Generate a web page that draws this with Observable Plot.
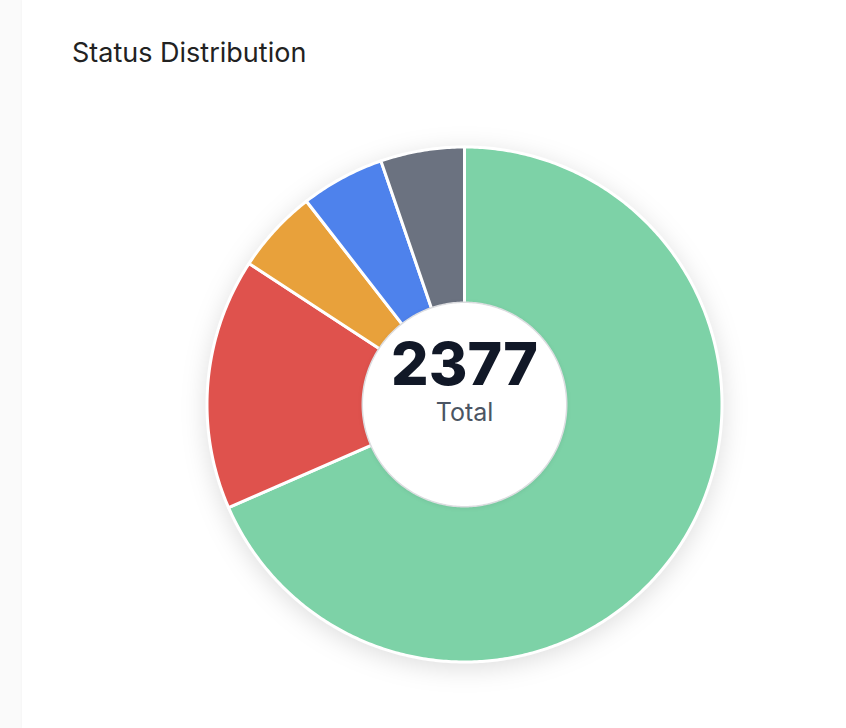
<!DOCTYPE html>
<html>
<head>
<meta charset="utf-8">
<script src="https://cdn.jsdelivr.net/npm/d3@7"></script>
<script src="https://cdn.jsdelivr.net/npm/@observablehq/plot@0.6"></script>
<style>
  html, body { margin: 0; padding: 0; }
  body { width: 846px; height: 728px; background: #fafafa; position: relative; overflow: hidden; font-family: Inter, "Noto Sans", sans-serif; }
  #card { position: absolute; left: 22px; top: 0; width: 824px; height: 728px; background: #ffffff; box-shadow: -1px 0 2px rgba(0,0,0,0.02); }
  #title { position: absolute; left: 50px; top: 36px; font-size: 27px; font-weight: 400; color: #222222; letter-spacing: 0px; }
  #chart { position: absolute; left: 122px; top: 84px; }
</style>
</head>
<body>
<div id="card">
  <div id="title">Status Distribution</div>
  <div id="chart"></div>
</div>
<script>
const categories = ["Completed", "Failed", "Pending", "In Progress", "Cancelled"];
const counts = [1627, 375, 125, 125, 125];
const colors = ["#7dd2a7", "#df524d", "#e8a13b", "#4e82ec", "#6b7280"];
const totalLabel = "Total";

const innerRatio = 0.397;
const size = 640;
const outerPx = 257.5;
const extent = (size / 2) / outerPx;

const data = categories.map((c, i) => ({category: c, count: counts[i]}));
const total = d3.sum(counts);
const arcs = d3.pie().sort(null).value(d => d.count)(data);

const slicePts = [];
for (const a of arcs) {
  const n = Math.max(8, Math.ceil((a.endAngle - a.startAngle) / 0.01));
  for (let k = 0; k <= n; k++) {
    const t = a.startAngle + (a.endAngle - a.startAngle) * k / n;
    slicePts.push({category: a.data.category, x: Math.sin(t), y: Math.cos(t)});
  }
  for (let k = n; k >= 0; k--) {
    const t = a.startAngle + (a.endAngle - a.startAngle) * k / n;
    slicePts.push({category: a.data.category, x: innerRatio * 0.9 * Math.sin(t), y: innerRatio * 0.9 * Math.cos(t)});
  }
}
const holePts = d3.range(0, 361).map(d => {
  const t = d * Math.PI / 180;
  return {x: innerRatio * Math.sin(t), y: innerRatio * Math.cos(t)};
});

const plot = Plot.plot({
  width: size,
  height: size,
  margin: 0,
  x: {domain: [-extent, extent], axis: null},
  y: {domain: [-extent, extent], axis: null},
  color: {domain: categories, range: colors},
  style: {background: "transparent", overflow: "visible"},
  marks: [
    Plot.line(slicePts, {x: "x", y: "y", z: "category", fill: "category", stroke: "white", strokeWidth: 3, strokeLinejoin: "round", curve: "linear-closed"}),
    Plot.line(holePts, {x: "x", y: "y", fill: "white", stroke: "#dcdde0", strokeWidth: 1.5, curve: "linear-closed"}),
    Plot.text([total], {x: () => 0, y: () => 0, text: d => String(d), dy: -20, lineAnchor: "bottom", fontSize: 59, fontWeight: 800, fill: "#111827", fontFamily: "Inter"}),
    Plot.text([totalLabel], {x: () => 0, y: () => 0, text: d => d, dy: 16, lineAnchor: "bottom", fontSize: 25, fontWeight: 400, fill: "#4b5563", fontFamily: "Inter"})
  ]
});
document.getElementById("chart").appendChild(plot);
const lines = plot.querySelectorAll('g[aria-label="line"]');
if (lines[0]) lines[0].style.filter = "drop-shadow(0px 5px 12px rgba(0,0,0,0.13))";
if (lines[1]) lines[1].style.filter = "drop-shadow(0px 1px 2px rgba(0,0,0,0.06))";
</script>
</body>
</html>
